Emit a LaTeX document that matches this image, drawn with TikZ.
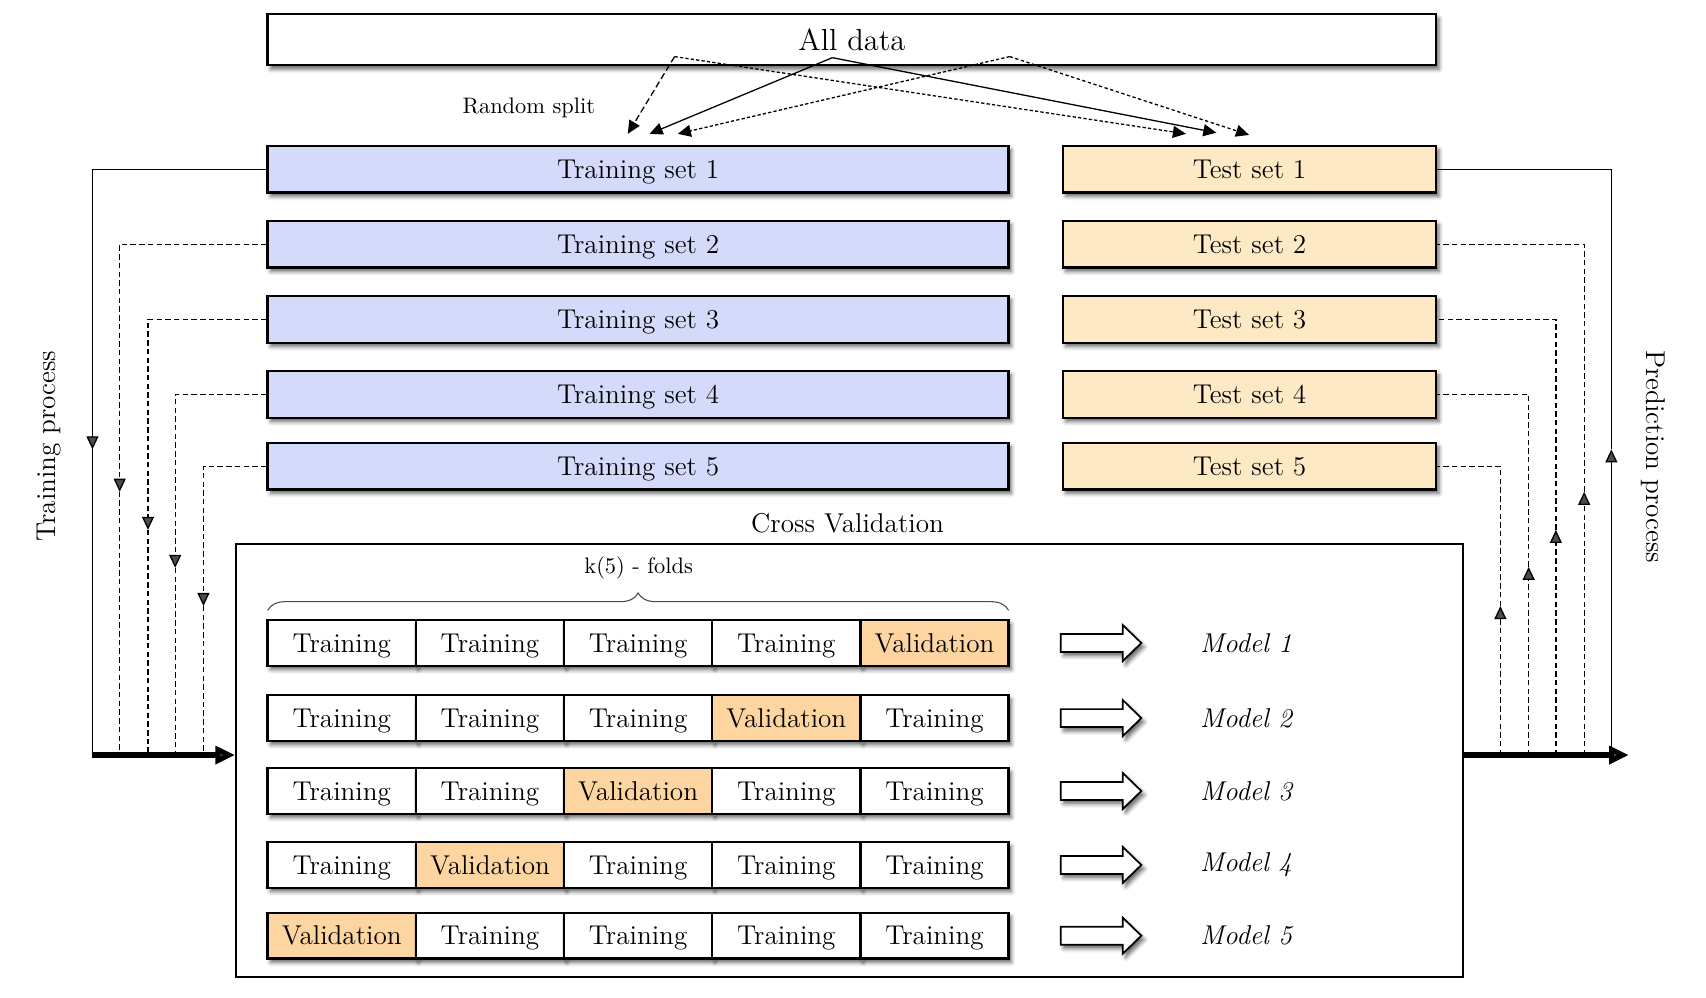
\documentclass[tikz,border=0pt]{standalone}
\usepackage{tikz}
\usetikzlibrary{arrows.meta,shadows.blur,decorations.pathreplacing,calc}
\definecolor{trainblue}{RGB}{212,218,250}
\definecolor{testbeige}{RGB}{253,233,196}
\definecolor{valorange}{RGB}{252,213,160}
\tikzset{
  shad/.style={blur shadow={shadow xshift=1.3pt, shadow yshift=-1.8pt, shadow blur radius=1.8pt, shadow opacity=60}},
  box/.style={draw, line width=1.1pt, inner sep=0pt, shad, font=\fontsize{12.5}{15}\selectfont},
  txt/.style={text height=8.4pt, text depth=0pt},
  trainbox/.style={box, txt, fill=trainblue, minimum width=340.5pt, minimum height=21.5pt},
  testbox/.style={box, txt, fill=testbeige, minimum width=171.5pt, minimum height=21.5pt},
  cell/.style={box, txt, fill=white, minimum width=68.1pt, minimum height=21pt},
  valcell/.style={cell, fill=valorange},
  conn/.style={line width=0.6pt},
  dconn/.style={conn, dash pattern=on 2.5pt off 1.5pt},
  tip/.style={-{Triangle[length=6pt,width=5.5pt]}},
  bigarrow/.style={line width=2.4pt, -{Triangle[length=9pt,width=8pt]}},
  lbl/.style={font=\fontsize{12.5}{15}\selectfont},
  hollow/.style={draw, line width=0.8pt, fill=white, shad}
}
\begin{document}
\begin{tikzpicture}[x=0.5pt,y=-0.5pt]
\useasboundingbox (0,0) rectangle (1568,917);

% All data
\node[box, fill=white, minimum width=537pt, minimum height=23.5pt, font=\fontsize{14}{17}\selectfont] (all) at (783,36.5) {All data};

% training and test sets
\foreach \i/\yy in {1/155.5,2/224.5,3/293.5,4/362.5,5/428.5} {
  \node[trainbox] (tr\i) at (586.5,\yy) {Training set \i};
  \node[testbox] (te\i) at (1148.5,\yy) {Test set \i};
}

% random split
\node[font=\fontsize{10.3}{12}\selectfont] (rs) at (486,99) {Random split};
\coordinate (sA) at (765,53);
\coordinate (sB) at (620,52);
\coordinate (sC) at (928,52);
\coordinate (eA1) at (597,123);
\coordinate (eA2) at (1118,122);
\coordinate (eB1) at (577,123);
\coordinate (eB2) at (1090,123);
\coordinate (eC1) at (623,123);
\coordinate (eC2) at (1148,124);
\draw[conn,tip] (sA) -- (eA1);
\draw[conn,tip] (sA) -- (eA2);
\draw[conn,tip,dash pattern=on 3pt off 1.5pt] (sB) -- (eB1);
\draw[conn,tip,dash pattern=on 1.5pt off 1pt] (sB) -- (eB2);
\draw[conn,tip,dash pattern=on 1.5pt off 1pt] (sC) -- (eC1);
\draw[conn,tip,dash pattern=on 1.5pt off 1.2pt] (sC) -- (eC2);

% cross validation box
\node[draw, line width=1pt, minimum width=564pt, minimum height=199pt, inner sep=0pt] (cv) at (781,699) {};
\node[lbl] (cvl) at (779,481) {Cross Validation};

% brace
\coordinate (brL) at (246,561);
\coordinate (brR) at (927,561);
\draw[decorate, decoration={brace, amplitude=8pt}, line width=0.5pt, black!70] (brL) -- (brR);
\node[font=\fontsize{10.3}{12}\selectfont] (kf) at (587,522) {k(5) - folds};

% folds
\foreach \r/\yy/\v in {1/591/5,2/660/4,3/727/3,4/795/2,5/860/1} {
  \foreach \c in {1,...,5} {
    \pgfmathsetmacro\xx{246+136.2*(\c-0.5)}
    \ifnum\c=\v
      \node[valcell] (f\r-\c) at (\xx,\yy) {Validation};
    \else
      \node[cell] (f\r-\c) at (\xx,\yy) {Training};
    \fi
  }
  \draw[hollow] (975,\yy-8.25) -- (1032,\yy-8.25) -- (1032,\yy-16.5) -- (1049,\yy) -- (1032,\yy+16.5) -- (1032,\yy+8.25) -- (975,\yy+8.25) -- cycle;
  \node[anchor=west, font=\fontsize{12.5}{15}\selectfont\itshape] (m\r) at (1096,\yy) {Model \r};
}

% left connectors
\foreach \i/\xx/\ya in {1/85/413,2/110/452,3/136/487,4/161/522,5/187/557} {
  \coordinate (lm\i) at (\xx,\ya);
  \coordinate (lb\i) at (\xx,694);
}
\draw[conn,tip] (tr1.west) -| (lm1);
\draw[conn] (lm1) -- (lb1);
\draw[dconn,tip] (tr2.west) -| (lm2);
\draw[dconn] (lm2) -- (lb2);
\draw[dconn,tip] (tr3.west) -| (lm3);
\draw[dconn] (lm3) -- (lb3);
\draw[dconn,tip] (tr4.west) -| (lm4);
\draw[dconn] (lm4) -- (lb4);
\draw[dconn,tip] (tr5.west) -| (lm5);
\draw[dconn] (lm5) -- (lb5);
\draw[bigarrow] (lb1) -- (cv.west |- lb1);

% right connectors
\foreach \i/\xx/\ya in {1/1481/413,2/1456/452,3/1430/487,4/1405/521,5/1379/557} {
  \coordinate (rm\i) at (\xx,\ya);
  \coordinate (rb\i) at (\xx,694);
}
\coordinate (rend) at (1497,694);
\draw[conn,tip] (rb1) -- (rm1);
\draw[conn] (rm1) |- (te1.east);
\draw[dconn,tip] (rb2) -- (rm2);
\draw[dconn] (rm2) |- (te2.east);
\draw[dconn,tip] (rb3) -- (rm3);
\draw[dconn] (rm3) |- (te3.east);
\draw[dconn,tip] (rb4) -- (rm4);
\draw[dconn] (rm4) |- (te4.east);
\draw[dconn,tip] (rb5) -- (rm5);
\draw[dconn] (rm5) |- (te5.east);
\draw[bigarrow] (cv.east |- rb1) -- (rend);

% side labels
\node[lbl, rotate=90] (tp) at (45,410) {Training process};
\node[lbl, rotate=-90] (pp) at (1520,420) {Prediction process};
\end{tikzpicture}
\end{document}
